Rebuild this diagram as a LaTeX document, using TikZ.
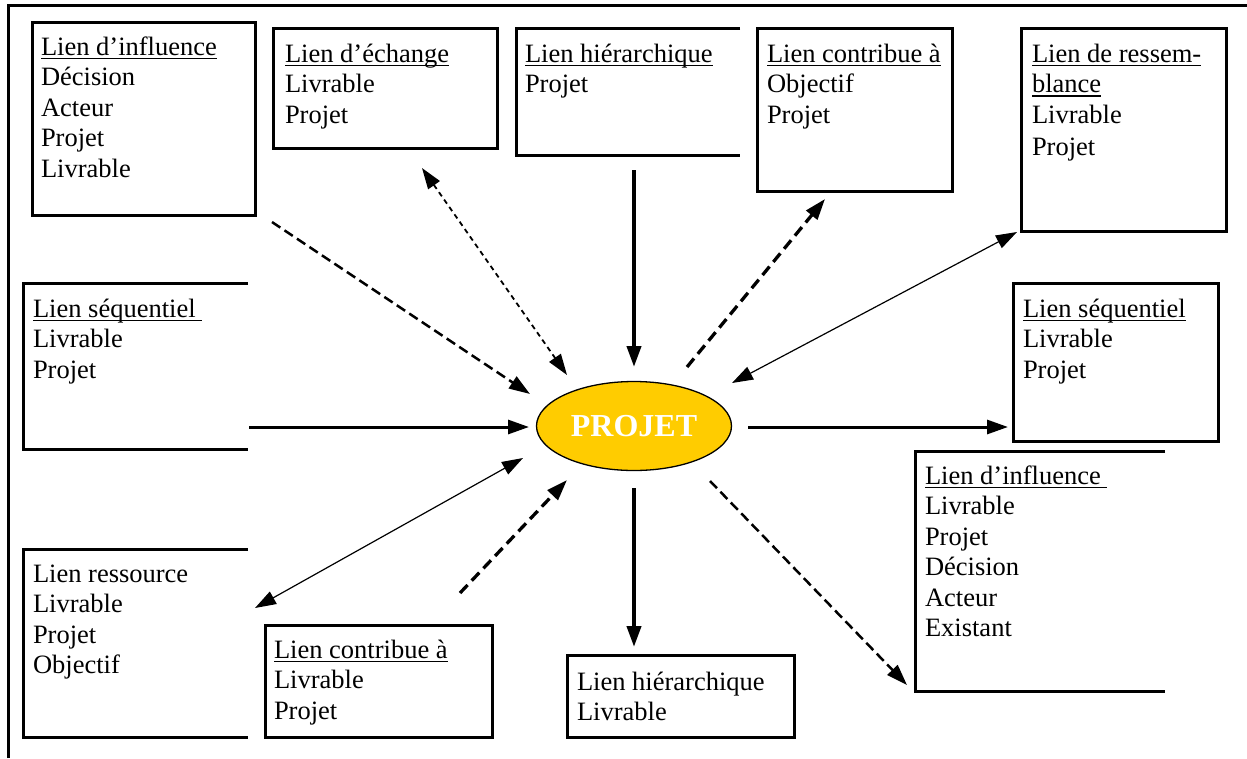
\documentclass[tikz,border=0pt]{standalone}
\usepackage{fontspec}
\setmainfont{Liberation Serif}
\usetikzlibrary{arrows.meta,shapes.geometric}
\definecolor{projgold}{HTML}{FFCC00}
\newcommand\ulx[1]{\setbox0\hbox{#1}\rlap{\rule[-4.2pt]{\wd0}{1.7pt}}\box0}
\newcommand\boxlines[1]{\begin{tabular}[t]{@{}l@{}}#1\end{tabular}}
\begin{document}
\begin{tikzpicture}[x=1pt,y=-1pt,
  box/.style={draw, line width=3pt, rectangle, inner sep=0pt, outer sep=0pt, anchor=north west},
  openbox/.style={rectangle, inner sep=0pt, outer sep=0pt, anchor=north west},
  boxline/.style={line width=3pt},
  txt/.style={inner sep=0pt, outer sep=0pt, anchor=base west, font=\fontsize{26.5}{30.5}\selectfont},
  tipE/.style={-{Triangle[length=21pt,width=14pt]}},
  tipB/.style={{Triangle[length=21pt,width=14pt]}-{Triangle[length=21pt,width=14pt]}},
  dashA/.style={line width=2.5pt, dash pattern=on 10pt off 5pt},
  dashB/.style={line width=1.8pt, dash pattern=on 5pt off 4pt},
  dashC/.style={line width=3.3pt, dash pattern=on 11pt off 6pt},
  thickv/.style={line width=4pt},
  medh/.style={line width=3pt},
  thinl/.style={line width=1.2pt}
]
\useasboundingbox (0,0) rectangle (1247,758);
% frame (top and left only)
\draw[line width=3pt] (8,758) -- (8,5) -- (1247,5);

% boxes
\node[box, minimum width=223pt, minimum height=193pt] (b1) at (32,22) {};
\node[box, minimum width=224pt, minimum height=120pt] (b2) at (273,28) {};
\node[openbox, minimum width=224pt, minimum height=127pt] (b3) at (516,28) {};
\node[box, minimum width=195pt, minimum height=163pt] (b4) at (757,28) {};
\node[box, minimum width=205pt, minimum height=203pt] (b5) at (1021,28) {};
\node[openbox, minimum width=225pt, minimum height=166pt] (b6) at (23,283) {};
\node[box, minimum width=205pt, minimum height=158pt] (b7) at (1013,283) {};
\node[openbox, minimum width=250pt, minimum height=240pt] (b8) at (915,451) {};
\node[openbox, minimum width=225pt, minimum height=188pt] (b9) at (23,549) {};
\node[box, minimum width=227pt, minimum height=112pt] (b10) at (265,625) {};
\node[box, minimum width=227pt, minimum height=82pt] (b11) at (567,655) {};

\foreach \b in {b3,b6,b8,b9}
  \draw[boxline] (\b.north east) -- (\b.north west) -- (\b.south west) -- (\b.south east);

% texts
\node[txt] (t1) at ([shift={(9,33)}]b1.north west) {\boxlines{\ulx{Lien d’influence}\\Décision\\Acteur\\Projet\\Livrable}};
\node[txt] (t2) at ([shift={(12,34)}]b2.north west) {\boxlines{\ulx{Lien d’échange}\\Livrable\\Projet}};
\node[txt] (t3) at ([shift={(9,34)}]b3.north west) {\boxlines{\ulx{Lien hiérarchique}\\Projet}};
\node[txt] (t4) at ([shift={(10,34)}]b4.north west) {\boxlines{\ulx{Lien contribue à}\\Objectif\\Projet}};
\node[txt] (t5) at ([shift={(11,34)}]b5.north west) {\boxlines{\ulx{Lien de ressem-}\\\ulx{blance}\\Livrable\\[2pt]Projet}};
\node[txt] (t6) at ([shift={(10,34)}]b6.north west) {\boxlines{\ulx{Lien séquentiel\ }\\Livrable\\Projet}};
\node[txt] (t7) at ([shift={(10,34)}]b7.north west) {\boxlines{\ulx{Lien séquentiel}\\Livrable\\Projet}};
\node[txt] (t8) at ([shift={(10,33)}]b8.north west) {\boxlines{\ulx{Lien d’influence\ }\\Livrable\\Projet\\Décision\\Acteur\\Existant}};
\node[txt] (t9) at ([shift={(10,33)}]b9.north west) {\boxlines{Lien ressource\\Livrable\\Projet\\Objectif}};
\node[txt] (t10) at ([shift={(9,33)}]b10.north west) {\boxlines{\ulx{Lien contribue à}\\Livrable\\Projet}};
\node[txt] (t11) at ([shift={(10,35)}]b11.north west) {\boxlines{Lien hiérarchique\\Livrable}};

% central ellipse
\node[ellipse, draw, line width=1.3pt, fill=projgold, minimum width=195pt, minimum height=89pt,
  inner sep=0pt, outer sep=0pt, text=white, font=\fontsize{32}{38}\selectfont\bfseries] (pr) at (634,426) {PROJET};

% connectors
\draw[dashA, tipE] ([shift={(17,7)}]b1.south east) -- ([shift={(-104,-32)}]pr.center);
\draw[dashB, tipB] ([shift={(37,20)}]b2.south) -- ([shift={(-67,-51)}]pr.center);
\draw[thickv, tipE] ([shift={(6,15)}]b3.south) -- ([shift={(0,-59)}]pr.center);
\draw[dashC, tipE] ([shift={(53,-59)}]pr.center) -- ([shift={(-29.5,8)}]b4.south);
\draw[thinl, tipB] ([shift={(98,-43)}]pr.center) -- ([shift={(-4,1)}]b5.south west);
\draw[medh, tipE] ([shift={(1,-22)}]b6.south east) -- ([shift={(-105,1)}]pr.center);
\draw[medh, tipE] ([shift={(114,1)}]pr.center) -- ([shift={(-5,-14)}]b7.south west);
\draw[thinl, tipB] ([shift={(-111,32)}]pr.center) -- ([shift={(7,59)}]b9.north east);
\draw[dashC, tipE] ([shift={(81.5,-32)}]b10.north) -- ([shift={(-67,54)}]pr.center);
\draw[thickv, tipE] ([shift={(0,62)}]pr.center) -- ([shift={(-46.5,-8)}]b11.north);
\draw[dashA, tipE] ([shift={(76,55)}]pr.center) -- ([shift={(-8,-6)}]b8.south west);
\end{tikzpicture}
\end{document}
